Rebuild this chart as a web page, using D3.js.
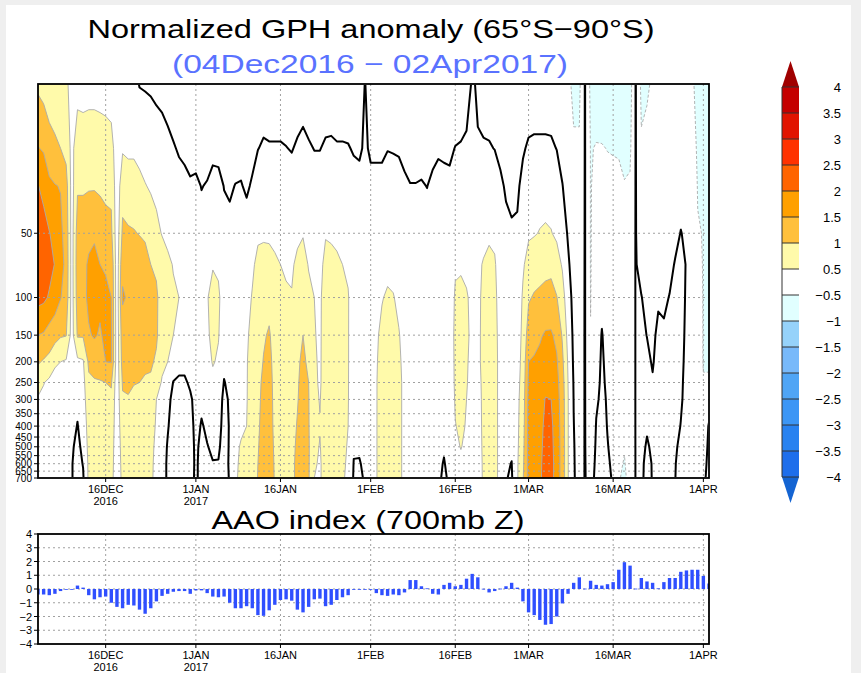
<!DOCTYPE html>
<html>
<head>
<meta charset="utf-8">
<script src="https://cdn.jsdelivr.net/npm/d3@7"></script>
<style>
body{margin:0;background:#efefef;}
svg{display:block;}
text{font-family:"Liberation Sans",Arial,sans-serif;fill:#000;}
</style>
</head>
<body>
<div id="chart"></div>
<script>
// pressure levels of the grid rows (hPa), top to bottom
var levels = [10, 20, 30, 50, 70, 100, 150, 200, 250, 300, 400, 500, 600, 700];
var pressureTicks = [50, 100, 150, 200, 250, 300, 350, 400, 450, 500, 550, 600, 650, 700];

// date ticks shared by both panels
var tickDates = ["2016-12-16", "2017-01-01", "2017-01-16", "2017-02-01", "2017-02-16", "2017-03-01", "2017-03-16", "2017-04-01"];
var tickLabels = ["16DEC", "1JAN", "16JAN", "1FEB", "16FEB", "1MAR", "16MAR", "1APR"];
var tickYears = ["2016", "2017", "", "", "", "", "", ""];

// colour bar
var cbLevels = [4, 3.5, 3, 2.5, 2, 1.5, 1, 0.5, -0.5, -1, -1.5, -2, -2.5, -3, -3.5, -4];
var cbLabels = ["4", "3.5", "3", "2.5", "2", "1.5", "1", "0.5", "\u22120.5", "\u22121", "\u22121.5", "\u22122", "\u22122.5", "\u22123", "\u22123.5", "\u22124"];
var cbColors = ["#a00000", "#c40000", "#e11400", "#ff3200", "#ff6400", "#ffa000", "#ffc03c", "#fffaaa", "#ffffff",
	"#e1ffff", "#96d2fa", "#78b9fa", "#50a5f5", "#3c96f5", "#2882f0", "#1e6eeb", "#1464d2"];

// normalized GPH anomaly, one column per day from 04Dec2016, values at "levels" top to bottom
var gph = [
	[0.9,1.52,2.02,2.35,2.45,2.15,1.5,1.05,0.7,0.45,0.35,0.3,0.25,0.2],
	[0.8,1.45,1.85,2.2,2.35,2.1,1.45,0.95,0.52,0.4,0.32,0.28,0.24,0.2],
	[0.7,1.2,1.6,2.02,2.15,1.95,1.3,0.85,0.4,0.35,0.3,0.26,0.22,0.2],
	[0.65,1.1,1.52,1.85,1.98,1.75,1.2,0.55,0.38,0.32,0.28,0.24,0.2,0.18],
	[0.6,1.0,1.48,1.6,1.7,1.52,1.05,0.5,0.35,0.3,0.26,0.22,0.2,0.18],
	[0.55,0.85,1.2,1.3,1.35,1.3,1.02,0.45,0.3,0.26,0.24,0.22,0.2,0.18],
	[0.4,0.35,0.3,0.3,0.3,0.3,0.3,0.3,0.3,0.2,0.15,0.05,0.02,0.02],
	[0.3,0.8,0.95,1.2,1.25,1.2,1.05,0.4,0.3,0.1,-0.02,-0.1,-0.15,-0.15],
	[0.3,0.75,0.95,1.2,1.4,1.35,1.05,0.45,0.35,0.3,0.2,0.1,0.02,-0.05],
	[0.3,0.8,0.95,1.4,1.55,1.6,1.45,1.1,0.9,0.8,0.7,0.65,0.6,0.6],
	[0.3,0.8,0.95,1.45,1.6,1.65,1.55,1.2,0.95,0.85,0.75,0.7,0.65,0.62],
	[0.3,0.75,0.92,1.3,1.5,1.6,1.45,1.15,0.98,0.85,0.75,0.7,0.65,0.62],
	[0.25,0.75,0.9,1.15,1.45,1.6,1.6,1.5,1.0,0.9,0.8,0.72,0.68,0.65],
	[0.2,0.7,0.9,1.1,1.4,1.5,1.55,1.52,1.05,0.9,0.8,0.72,0.68,0.65],
	[0.15,0.2,0.2,0.2,0.2,0.2,0.2,0.2,0.2,0.2,0.2,0.2,0.2,0.2],
	[0.2,0.45,0.8,1.1,1.4,1.55,1.3,1.2,1.05,0.95,0.8,0.7,0.65,0.62],
	[0.2,0.4,0.75,1.05,1.35,1.45,1.3,1.15,1.05,0.98,0.8,0.7,0.65,0.62],
	[0.15,0.42,0.7,1.03,1.3,1.35,1.3,1.15,1.02,0.9,0.78,0.7,0.65,0.62],
	[-0.02,0.35,0.62,0.98,1.25,1.32,1.28,1.12,1.0,0.88,0.76,0.68,0.64,0.6],
	[-0.04,0.3,0.52,0.92,1.2,1.28,1.25,1.08,0.95,0.85,0.72,0.65,0.6,0.58],
	[-0.06,0.25,0.45,0.75,1.0,1.2,1.2,1.05,0.95,0.8,0.68,0.6,0.56,0.55],
	[-0.1,0.2,0.4,0.6,0.95,1.05,1.05,0.95,0.75,0.5,0.45,0.42,0.42,0.42],
	[-0.12,0.15,0.3,0.48,0.7,0.85,0.8,0.62,0.45,0.35,0.3,0.3,0.3,0.3],
	[-0.15,0.08,0.25,0.4,0.58,0.7,0.65,0.5,0.35,0.2,0.05,-0.05,-0.1,-0.1],
	[-0.2,0.025,0.15,0.35,0.48,0.55,0.5,0.3,-0.02,-0.2,-0.25,-0.25,-0.25,-0.25],
	[-0.25,-0.03,0.1,0.3,0.45,0.5,0.45,0.2,-0.1,-0.2,-0.25,-0.25,-0.25,-0.25],
	[-0.3,-0.12,0.15,0.25,0.3,0.3,0.25,0.1,-0.05,-0.15,-0.2,-0.2,-0.2,-0.2],
	[-0.3,-0.15,0.05,0.2,0.25,0.25,0.2,0.15,0.05,-0.05,-0.1,-0.12,-0.12,-0.1],
	[-0.3,-0.12,0.06,0.15,0.2,0.2,0.18,0.15,0.12,0.1,0.08,0.06,0.05,0.05],
	[-0.35,-0.15,-0.01,0.1,0.15,0.15,0.15,0.12,0.08,0.05,-0.02,-0.08,-0.1,-0.1],
	[-0.35,-0.12,0.02,0.2,0.35,0.48,0.45,0.35,0.2,0.1,0.04,-0.01,-0.05,-0.08],
	[-0.3,-0.1,0.12,0.3,0.48,0.6,0.58,0.53,0.4,0.25,0.12,0.04,-0.01,-0.05],
	[-0.3,-0.1,0.1,0.28,0.45,0.55,0.52,0.45,0.3,0.2,0.1,0.03,-0.01,-0.05],
	[-0.35,-0.15,-0.01,0.1,0.2,0.35,0.3,0.1,-0.02,-0.1,-0.1,-0.08,-0.06,-0.05],
	[-0.4,-0.2,-0.05,0.1,0.2,0.3,0.3,0.25,0.1,0.05,0.02,0.02,0.02,0.01],
	[-0.35,-0.15,0.01,0.15,0.25,0.35,0.38,0.4,0.42,0.43,0.44,0.45,0.45,0.45],
	[-0.35,-0.12,0.02,0.15,0.25,0.3,0.32,0.35,0.4,0.43,0.46,0.52,0.55,0.58],
	[-0.4,-0.18,-0.05,0.15,0.3,0.4,0.45,0.48,0.48,0.48,0.5,0.55,0.6,0.62],
	[-0.35,-0.1,0.04,0.3,0.45,0.52,0.6,0.62,0.65,0.68,0.7,0.72,0.75,0.78],
	[-0.3,-0.01,0.2,0.45,0.58,0.7,0.8,0.85,0.9,0.92,0.95,0.98,1.0,1.02],
	[-0.25,0.05,0.3,0.45,0.62,0.8,0.95,1.02,1.08,1.1,1.12,1.12,1.12,1.12],
	[-0.25,0.03,0.28,0.45,0.6,0.85,1.05,1.12,1.15,1.15,1.15,1.15,1.15,1.15],
	[-0.25,0.03,0.25,0.42,0.55,0.7,0.8,0.85,0.88,0.9,0.92,0.95,0.97,0.98],
	[-0.25,0.03,0.22,0.38,0.5,0.62,0.7,0.72,0.72,0.72,0.7,0.7,0.7,0.7],
	[-0.28,0.01,0.2,0.35,0.45,0.55,0.65,0.7,0.72,0.72,0.72,0.72,0.72,0.72],
	[-0.3,-0.02,0.15,0.35,0.45,0.52,0.68,0.75,0.8,0.85,0.9,0.92,0.95,0.95],
	[-0.25,0.05,0.3,0.42,0.58,0.72,0.85,0.92,0.96,0.98,1.02,1.05,1.05,1.05],
	[-0.2,0.1,0.35,0.48,0.62,0.8,1.0,1.1,1.12,1.12,1.12,1.12,1.12,1.12],
	[-0.25,0.04,0.25,0.42,0.48,0.58,0.75,0.9,1.0,1.02,1.03,1.05,1.05,1.05],
	[-0.3,-0.01,0.15,0.3,0.4,0.5,0.52,0.55,0.58,0.6,0.62,0.6,0.55,0.5],
	[-0.3,-0.01,0.15,0.32,0.42,0.45,0.45,0.45,0.45,0.48,0.52,0.48,0.45,0.45],
	[-0.25,0.05,0.3,0.48,0.58,0.65,0.68,0.7,0.72,0.72,0.72,0.7,0.7,0.7],
	[-0.25,0.06,0.3,0.47,0.56,0.62,0.65,0.66,0.66,0.66,0.65,0.65,0.65,0.65],
	[-0.25,0.03,0.28,0.46,0.53,0.6,0.6,0.6,0.6,0.6,0.6,0.6,0.6,0.6],
	[-0.25,0.03,0.25,0.42,0.5,0.56,0.56,0.56,0.56,0.56,0.56,0.56,0.56,0.56],
	[-0.25,0.02,0.22,0.38,0.45,0.52,0.52,0.52,0.52,0.52,0.5,0.48,0.45,0.4],
	[-0.3,-0.03,0.12,0.25,0.3,0.32,0.3,0.28,0.25,0.2,0.15,0.05,-0.02,-0.05],
	[-0.3,-0.05,0.1,0.2,0.25,0.28,0.28,0.25,0.2,0.15,0.1,0.04,-0.02,-0.05],
	[0.02,0.05,0.15,0.22,0.28,0.3,0.3,0.28,0.25,0.2,0.15,0.1,0.06,0.03],
	[-0.3,-0.05,0.08,0.2,0.28,0.32,0.35,0.35,0.35,0.35,0.35,0.35,0.35,0.35],
	[-0.3,-0.05,0.08,0.2,0.3,0.38,0.45,0.47,0.48,0.48,0.48,0.48,0.48,0.48],
	[-0.3,-0.05,0.08,0.22,0.35,0.48,0.58,0.62,0.65,0.65,0.66,0.66,0.66,0.66],
	[-0.28,-0.01,0.12,0.25,0.4,0.55,0.68,0.72,0.75,0.75,0.76,0.76,0.76,0.76],
	[-0.28,-0.02,0.12,0.25,0.38,0.52,0.65,0.7,0.72,0.72,0.72,0.72,0.72,0.72],
	[-0.3,-0.03,0.1,0.22,0.32,0.42,0.52,0.56,0.58,0.58,0.58,0.58,0.58,0.58],
	[-0.32,-0.08,0.05,0.15,0.22,0.3,0.38,0.4,0.42,0.42,0.42,0.42,0.42,0.42],
	[-0.35,-0.12,0.01,0.1,0.15,0.2,0.22,0.22,0.22,0.22,0.22,0.22,0.22,0.22],
	[-0.35,-0.12,0.01,0.1,0.15,0.2,0.22,0.22,0.22,0.22,0.22,0.22,0.22,0.22],
	[-0.35,-0.1,0.02,0.1,0.15,0.2,0.22,0.22,0.22,0.22,0.22,0.2,0.18,0.15],
	[-0.35,-0.12,-0.005,0.1,0.15,0.2,0.22,0.22,0.22,0.22,0.2,0.18,0.15,0.12],
	[-0.32,-0.08,0.06,0.12,0.15,0.18,0.2,0.2,0.2,0.2,0.18,0.15,0.12,0.1],
	[-0.3,-0.04,0.1,0.15,0.2,0.22,0.22,0.2,0.18,0.15,0.12,0.1,0.1,0.1],
	[-0.3,-0.05,0.08,0.15,0.2,0.22,0.22,0.2,0.18,0.15,0.1,0.05,-0.03,-0.1],
	[-0.3,-0.06,0.07,0.15,0.2,0.25,0.28,0.3,0.3,0.28,0.25,0.2,0.15,0.1],
	[-0.28,0.01,0.18,0.3,0.45,0.55,0.58,0.56,0.55,0.53,0.49,0.45,0.35,0.3],
	[-0.25,0.03,0.22,0.38,0.45,0.6,0.62,0.6,0.58,0.57,0.55,0.51,0.45,0.4],
	[-0.4,0.15,0.22,0.35,0.45,0.52,0.54,0.53,0.52,0.5,0.48,0.45,0.4,0.38],
	[0.1,0.2,0.28,0.38,0.42,0.45,0.45,0.42,0.4,0.38,0.32,0.25,0.2,0.18],
	[-0.1,0.05,0.22,0.38,0.45,0.45,0.45,0.45,0.42,0.4,0.38,0.35,0.3,0.28],
	[-0.2,0.04,0.25,0.42,0.52,0.55,0.56,0.56,0.56,0.56,0.56,0.56,0.56,0.56],
	[-0.22,0.03,0.28,0.45,0.58,0.65,0.68,0.68,0.68,0.68,0.68,0.68,0.68,0.68],
	[-0.25,-0.01,0.22,0.42,0.54,0.58,0.6,0.6,0.6,0.6,0.6,0.6,0.6,0.6],
	[-0.3,-0.08,0.06,0.2,0.3,0.35,0.38,0.4,0.4,0.4,0.4,0.4,0.4,0.4],
	[-0.35,-0.15,-0.04,0.08,0.15,0.2,0.22,0.22,0.2,0.18,0.15,0.1,0.05,0.02],
	[-0.4,-0.2,-0.08,0.04,0.12,0.2,0.22,0.22,0.2,0.18,0.14,0.06,-0.01,-0.05],
	[-0.4,-0.2,-0.06,0.05,0.15,0.25,0.3,0.32,0.35,0.38,0.4,0.42,0.45,0.45],
	[-0.3,-0.04,0.1,0.3,0.45,0.55,0.6,0.65,0.7,0.75,0.8,0.85,0.9,0.95],
	[-0.25,0.05,0.25,0.45,0.65,0.95,1.25,1.5,1.58,1.62,1.65,1.65,1.65,1.65],
	[-0.25,0.07,0.3,0.47,0.75,1.05,1.35,1.55,1.7,1.8,1.85,1.88,1.9,1.9],
	[-0.25,0.07,0.32,0.52,0.8,1.1,1.45,1.6,1.75,1.82,1.86,1.88,1.9,1.9],
	[-0.25,0.07,0.33,0.55,0.85,1.15,1.55,1.7,1.88,2.02,2.1,2.15,2.2,2.25],
	[-0.25,0.06,0.3,0.52,0.85,1.2,1.55,1.7,1.85,2.0,2.1,2.15,2.2,2.2],
	[-0.3,-0.01,0.2,0.42,0.7,1.02,1.4,1.55,1.65,1.7,1.75,1.75,1.75,1.75],
	[-0.35,-0.12,0.01,0.2,0.45,0.7,0.95,1.1,1.2,1.25,1.28,1.3,1.3,1.3],
	[-0.4,-0.25,-0.15,-0.04,0.06,0.2,0.35,0.45,0.5,0.52,0.52,0.52,0.52,0.52],
	[-0.6,-0.45,-0.3,-0.22,-0.18,-0.14,-0.1,-0.07,-0.03,-0.01,0.01,0.03,0.04,0.05],
	[-0.6,-0.45,-0.35,-0.3,-0.25,-0.22,-0.2,-0.2,-0.2,-0.2,-0.2,-0.2,-0.2,-0.2],
	[0.02,0.02,0.02,0.02,0.02,0.02,0.02,0.02,0.02,0.02,0.02,0.02,0.02,0.02],
	[-0.6,-0.52,-0.52,-0.52,-0.52,-0.51,-0.49,-0.48,-0.45,-0.4,-0.35,-0.3,-0.2,-0.15],
	[-0.7,-0.48,-0.4,-0.35,-0.3,-0.25,-0.2,-0.15,-0.1,-0.05,0.02,0.06,0.08,0.1],
	[-0.75,-0.48,-0.4,-0.3,-0.2,-0.1,0.02,0.05,0.06,0.07,0.08,0.08,0.08,0.08],
	[-0.75,-0.51,-0.4,-0.3,-0.25,-0.2,-0.15,-0.1,-0.06,-0.03,-0.01,0.01,0.03,0.04],
	[-0.75,-0.52,-0.42,-0.35,-0.3,-0.25,-0.2,-0.15,-0.12,-0.1,-0.08,-0.06,-0.04,-0.02],
	[-0.75,-0.52,-0.45,-0.35,-0.3,-0.28,-0.25,-0.25,-0.25,-0.28,-0.32,-0.4,-0.45,-0.48],
	[-0.75,-0.6,-0.48,-0.35,-0.3,-0.28,-0.28,-0.3,-0.32,-0.35,-0.4,-0.48,-0.52,-0.55],
	[-0.7,-0.58,-0.45,-0.35,-0.3,-0.3,-0.3,-0.3,-0.3,-0.3,-0.32,-0.35,-0.38,-0.4],
	[0.02,0.02,0.02,0.02,0.02,0.02,0.02,0.02,0.02,0.02,0.02,0.02,0.02,0.02],
	[-0.6,-0.45,-0.35,-0.25,-0.1,0.01,0.05,0.08,0.1,0.1,0.08,0.05,0.03,0.03],
	[-0.55,-0.4,-0.3,-0.25,-0.18,-0.08,-0.005,0.05,0.06,0.05,0.02,-0.02,-0.04,-0.05],
	[-0.45,-0.35,-0.28,-0.22,-0.16,-0.1,-0.05,-0.02,0.02,0.05,0.05,0.03,0.01,0.01],
	[-0.4,-0.3,-0.25,-0.2,-0.15,-0.03,0.05,0.08,0.1,0.1,0.1,0.08,0.06,0.05],
	[-0.4,-0.3,-0.25,-0.2,-0.15,-0.05,0.04,0.08,0.1,0.1,0.1,0.08,0.06,0.05],
	[-0.4,-0.3,-0.22,-0.15,-0.08,0.01,0.06,0.08,0.08,0.08,0.06,0.04,0.02,0.02],
	[-0.4,-0.3,-0.2,-0.08,0.02,0.06,0.08,0.08,0.07,0.06,0.05,0.03,0.01,0.005],
	[-0.35,-0.25,-0.12,0.01,0.05,0.06,0.05,0.04,0.03,0.02,-0.005,-0.05,-0.08,-0.1],
	[-0.35,-0.25,-0.15,-0.05,-0.01,-0.02,-0.03,-0.04,-0.05,-0.05,-0.08,-0.1,-0.1,-0.1],
	[-0.45,-0.35,-0.25,-0.2,-0.15,-0.15,-0.15,-0.15,-0.15,-0.15,-0.12,-0.1,-0.1,-0.1],
	[-0.6,-0.55,-0.52,-0.48,-0.45,-0.42,-0.4,-0.4,-0.4,-0.38,-0.3,-0.2,-0.15,-0.1],
	[-0.6,-0.55,-0.52,-0.51,-0.51,-0.51,-0.51,-0.51,-0.49,-0.45,-0.35,-0.25,-0.15,-0.1],
	[-0.6,-0.55,-0.52,-0.51,-0.51,-0.51,-0.51,-0.51,-0.49,-0.3,0.05,0.1,0.12,0.15]
];

// daily AAO index (700mb Z), from 04Dec2016
var aao = [
	-0.4,-0.4,-0.45,-0.35,-0.15,-0.05,-0.05,0.25,0.1,-0.45,
	-0.75,-0.6,-0.55,-1.0,-1.3,-1.4,-1.15,-1.2,-1.5,-1.8,
	-1.4,-0.9,-0.5,-0.35,-0.2,-0.15,-0.15,-0.35,-0.1,-0.1,
	-0.3,-0.55,-0.6,-0.55,-1.0,-1.4,-1.4,-1.25,-1.4,-1.9,
	-1.95,-1.55,-1.15,-0.8,-0.75,-0.85,-1.5,-1.7,-1.3,-0.75,
	-0.7,-1.25,-1.15,-0.8,-0.6,-0.45,-0.05,-0.05,-0.05,-0.03,
	-0.3,-0.45,-0.5,-0.4,-0.45,-0.25,0.65,0.65,0.2,0.05,
	-0.35,-0.4,0.3,0.45,0.2,0.3,0.75,1.1,0.85,0.02,
	-0.25,-0.15,0.03,0.2,0.45,0.1,-0.9,-1.7,-1.9,-2.25,
	-2.6,-2.55,-2.0,-1.05,-0.35,0.45,0.85,0.03,0.6,0.3,
	0.25,0.35,0.5,1.4,1.95,1.7,0.03,0.8,0.55,0.45,
	0.05,0.5,0.8,0.8,1.25,1.35,1.4,1.4,0.95,0.4
];
var aaoTicks = [4, 3, 2, 1, 0, -1, -2, -3, -4];

var W = 861, H = 673;
var dayMs = 864e5,
	t0 = Date.UTC(2016, 11, 4);

var svg = d3.select("#chart").append("svg")
	.attr("width", W)
	.attr("height", H);

svg.append("rect")
	.attr("x", 6).attr("y", 5)
	.attr("width", 845).attr("height", H - 5)
	.style("fill", "#fff");

var x = d3.scaleUtc()
	.domain([new Date(t0), new Date(Date.UTC(2017, 3, 2))])
	.range([38, 709]);
var yP = d3.scaleLog().domain([10, 700]).range([84, 478]);
var yA = d3.scaleLinear().domain([-4, 4]).range([644, 534]);

var defs = svg.append("defs");
defs.append("clipPath").attr("id", "clipTop").append("rect")
	.attr("x", 38).attr("y", 84).attr("width", 671).attr("height", 394);
defs.append("clipPath").attr("id", "clipTopIn").append("rect")
	.attr("x", 39).attr("y", 85).attr("width", 669).attr("height", 392);
defs.append("clipPath").attr("id", "clipBot").append("rect")
	.attr("x", 38).attr("y", 534).attr("width", 671).attr("height", 110);

// ---- top panel: filled contours ----
var nx = gph.length, ny = levels.length;
var values = new Array(nx * ny);
for (var j = 0; j < ny; j++) {
	for (var i = 0; i < nx; i++) values[j * nx + i] = gph[i][j];
}
var thresholds = cbLevels.slice().reverse();
var bands = d3.contours().size([nx, ny]).thresholds(thresholds)(values);

// grid coordinates -> pixels (column i sits at i + 0.5)
function gxToPx(g){
	var d = Math.max(0, Math.min(nx - 1, g - 0.5));
	return x(new Date(t0 + d * dayMs));
}
function gyToPx(g){
	var k = Math.max(0, Math.min(ny - 1, g - 0.5));
	var i = Math.min(ny - 2, Math.floor(k)), f = k - i;
	return yP(Math.exp(Math.log(levels[i]) * (1 - f) + Math.log(levels[i + 1]) * f));
}
var path = d3.geoPath(d3.geoTransform({
	point: function(px, py){ this.stream.point(gxToPx(px), gyToPx(py)); }
}));

function bandColor(v){ return cbColors[cbLevels.indexOf(v)]; }

var gFill = svg.append("g").attr("clip-path", "url(#clipTop)");
gFill.append("rect")
	.attr("x", 38).attr("y", 84).attr("width", 671).attr("height", 394)
	.style("fill", cbColors[cbColors.length - 1]);
gFill.selectAll("path")
	.data(bands)
	.enter().append("path")
	.attr("d", path)
	.style("fill", function(d){ return bandColor(d.value); })
	.style("stroke", "none");

// dotted grid
var gGrid = svg.append("g")
	.style("stroke", "#a0a0a0")
	.style("stroke-width", 1)
	.style("stroke-dasharray", "2,3");
gGrid.selectAll("line.h")
	.data(pressureTicks.slice(0, -1))
	.enter().append("line")
	.attr("x1", 38).attr("x2", 709)
	.attr("y1", function(d){ return yP(d); })
	.attr("y2", function(d){ return yP(d); });
gGrid.selectAll("line.v")
	.data(tickDates)
	.enter().append("line")
	.attr("x1", function(d){ return x(new Date(d)); })
	.attr("x2", function(d){ return x(new Date(d)); })
	.attr("y1", 84).attr("y2", 478);

// contour outlines
var gLines = svg.append("g").attr("clip-path", "url(#clipTopIn)");
gLines.selectAll("path")
	.data(bands.filter(function(d){ return d.value >= -1 && d.value <= 2; }))
	.enter().append("path")
	.attr("d", path)
	.style("fill", "none")
	.style("stroke", "#aaaaaa")
	.style("stroke-width", 0.9)
	.style("stroke-dasharray", function(d){ return d.value < 0 ? "3,2" : null; });

var zero = d3.contours().size([nx, ny]).thresholds([0])(values);
gLines.append("path")
	.datum(zero[0])
	.attr("d", path)
	.style("fill", "none")
	.style("stroke", "#000")
	.style("stroke-width", 2)
	.style("stroke-linejoin", "round");

svg.append("rect")
	.attr("x", 38).attr("y", 84).attr("width", 671).attr("height", 394)
	.style("fill", "none")
	.style("stroke", "#000")
	.style("stroke-width", 1.8);

// pressure axis (labels crowd near the bottom, as in the original)
svg.append("g").selectAll("text")
	.data(pressureTicks)
	.enter().append("text")
	.attr("x", 32)
	.attr("y", function(d){ return yP(d) + 3.5; })
	.attr("text-anchor", "end")
	.style("font-size", "10px")
	.text(function(d){ return d; });
svg.append("g").selectAll("line")
	.data(pressureTicks)
	.enter().append("line")
	.attr("x1", 34).attr("x2", 38)
	.attr("y1", function(d){ return yP(d); })
	.attr("y2", function(d){ return yP(d); })
	.style("stroke", "#000");

// date axis, used by both panels
function dateAxis(yBase){
	var g = svg.append("g");
	g.selectAll("line")
		.data(tickDates)
		.enter().append("line")
		.attr("x1", function(d){ return x(new Date(d)); })
		.attr("x2", function(d){ return x(new Date(d)); })
		.attr("y1", yBase).attr("y2", yBase + 4)
		.style("stroke", "#000");
	g.selectAll("text.day")
		.data(tickLabels)
		.enter().append("text")
		.attr("class", "day")
		.attr("x", function(d, i){ return x(new Date(tickDates[i])); })
		.attr("y", yBase + 15)
		.attr("text-anchor", "middle")
		.style("font-size", "11px")
		.text(function(d){ return d; });
	g.selectAll("text.yr")
		.data(tickYears)
		.enter().append("text")
		.attr("class", "yr")
		.attr("x", function(d, i){ return x(new Date(tickDates[i])); })
		.attr("y", yBase + 27)
		.attr("text-anchor", "middle")
		.style("font-size", "11px")
		.text(function(d){ return d; });
}
dateAxis(478);

// ---- colour bar ----
var cbX = 782, cbW = 17, cbTop = 87, cbStep = 26;
var gCb = svg.append("g");
gCb.selectAll("rect")
	.data(cbLevels.slice(0, -1))
	.enter().append("rect")
	.attr("x", cbX)
	.attr("y", function(d, i){ return cbTop + i * cbStep; })
	.attr("width", cbW)
	.attr("height", cbStep)
	.style("fill", function(d, i){ return cbColors[i + 1]; });
gCb.append("path")
	.attr("d", "M" + cbX + "," + cbTop + "L" + (cbX + cbW) + "," + cbTop + "L" + (cbX + cbW / 2) + "," + (cbTop - 26) + "Z")
	.style("fill", cbColors[0]);
var cbBot = cbTop + (cbLevels.length - 1) * cbStep;
gCb.append("path")
	.attr("d", "M" + cbX + "," + cbBot + "L" + (cbX + cbW) + "," + cbBot + "L" + (cbX + cbW / 2) + "," + (cbBot + 26) + "Z")
	.style("fill", cbColors[cbColors.length - 1]);
gCb.selectAll("line")
	.data(cbLevels)
	.enter().append("line")
	.attr("x1", cbX).attr("x2", cbX + cbW)
	.attr("y1", function(d, i){ return cbTop + i * cbStep; })
	.attr("y2", function(d, i){ return cbTop + i * cbStep; })
	.style("stroke", "#333")
	.style("stroke-width", 1);
gCb.append("line")
	.attr("x1", cbX).attr("x2", cbX)
	.attr("y1", cbTop).attr("y2", cbBot)
	.style("stroke", "#333");
gCb.selectAll("text")
	.data(cbLabels)
	.enter().append("text")
	.attr("x", 841)
	.attr("y", function(d, i){ return cbTop + i * cbStep + 5; })
	.attr("text-anchor", "end")
	.style("font-size", "13px")
	.text(function(d){ return d; });

// ---- bottom panel: AAO bars ----
var gGrid2 = svg.append("g")
	.style("stroke", "#a0a0a0")
	.style("stroke-width", 1)
	.style("stroke-dasharray", "2,3");
gGrid2.selectAll("line.h")
	.data(aaoTicks.slice(1, -1))
	.enter().append("line")
	.attr("x1", 38).attr("x2", 709)
	.attr("y1", function(d){ return yA(d); })
	.attr("y2", function(d){ return yA(d); });
gGrid2.selectAll("line.v")
	.data(tickDates)
	.enter().append("line")
	.attr("x1", function(d){ return x(new Date(d)); })
	.attr("x2", function(d){ return x(new Date(d)); })
	.attr("y1", 534).attr("y2", 644);

var barW = (x(new Date(t0 + dayMs)) - x(new Date(t0))) * 0.6;
svg.append("g")
	.attr("clip-path", "url(#clipBot)")
	.selectAll("rect")
	.data(aao)
	.enter().append("rect")
	.attr("x", function(d, i){ return x(new Date(t0 + i * dayMs)) - barW / 2; })
	.attr("y", function(d){ return yA(Math.max(0, d)); })
	.attr("width", barW)
	.attr("height", function(d){ return Math.max(0.8, Math.abs(yA(d) - yA(0))); })
	.style("fill", "#2f4fff");

svg.append("rect")
	.attr("x", 38).attr("y", 534).attr("width", 671).attr("height", 110)
	.style("fill", "none")
	.style("stroke", "#000")
	.style("stroke-width", 1.8);

svg.append("g").selectAll("text")
	.data(aaoTicks)
	.enter().append("text")
	.attr("x", 32)
	.attr("y", function(d){ return yA(d) + 4; })
	.attr("text-anchor", "end")
	.style("font-size", "11px")
	.text(function(d){ return d < 0 ? "\u2212" + (-d) : d; });
svg.append("g").selectAll("line")
	.data(aaoTicks)
	.enter().append("line")
	.attr("x1", 34).attr("x2", 38)
	.attr("y1", function(d){ return yA(d); })
	.attr("y2", function(d){ return yA(d); })
	.style("stroke", "#000");
dateAxis(644);

// ---- titles ----
svg.append("text")
	.attr("x", 371).attr("y", 38)
	.attr("text-anchor", "middle")
	.attr("textLength", 567)
	.attr("lengthAdjust", "spacingAndGlyphs")
	.style("font-size", "26px")
	.text("Normalized GPH anomaly (65\u00b0S\u221290\u00b0S)");
svg.append("text")
	.attr("x", 370).attr("y", 73)
	.attr("text-anchor", "middle")
	.attr("textLength", 396)
	.attr("lengthAdjust", "spacingAndGlyphs")
	.style("font-size", "26px")
	.style("fill", "#5a72ff")
	.text("(04Dec2016 \u2212 02Apr2017)");
svg.append("text")
	.attr("x", 368).attr("y", 529)
	.attr("text-anchor", "middle")
	.attr("textLength", 313)
	.attr("lengthAdjust", "spacingAndGlyphs")
	.style("font-size", "25px")
	.text("AAO index (700mb Z)");
</script>
</body>
</html>
